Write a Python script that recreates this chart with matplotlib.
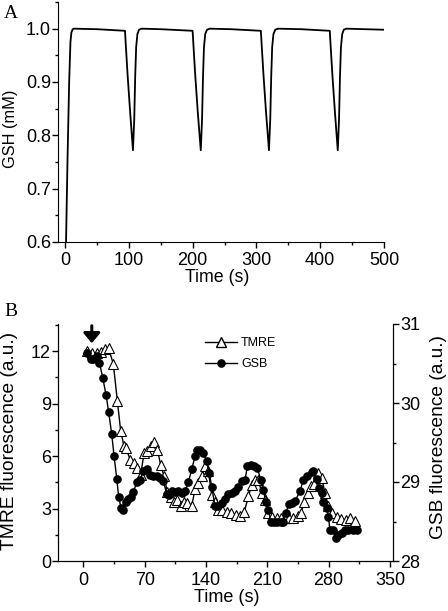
import matplotlib
matplotlib.use("Agg")
import matplotlib.pyplot as plt
from matplotlib.ticker import MultipleLocator
from matplotlib.lines import Line2D

plt.rcParams['font.family'] = ['Liberation Sans', 'DejaVu Sans']

# ---------------- Panel A data: simulated GSH ----------------
time_a = [0, 1.6, 4, 6.5, 8.5, 10, 12, 14, 50, 94,
          95, 98, 102, 106.5, 108.5, 110, 111.5, 113.5, 116, 120, 150, 200,
          201, 204, 208, 212.8, 214.8, 216.3, 217.8, 219.8, 222.5, 227, 260, 307,
          308, 311, 315, 319.7, 321.7, 323.2, 324.7, 326.7, 329.5, 334, 370, 415,
          416, 419, 423, 427.5, 429.5, 431, 432.5, 434.5, 437, 441, 470, 500]
gsh = [0.50, 0.60, 0.76, 0.90, 0.975, 0.993, 0.999, 1.000, 0.999, 0.996,
       0.975, 0.915, 0.845, 0.772, 0.830, 0.910, 0.965, 0.990, 0.998, 1.000, 0.999, 0.996,
       0.975, 0.915, 0.845, 0.772, 0.830, 0.910, 0.965, 0.990, 0.998, 1.000, 0.999, 0.996,
       0.975, 0.915, 0.845, 0.772, 0.830, 0.910, 0.965, 0.990, 0.998, 1.000, 0.999, 0.996,
       0.975, 0.915, 0.845, 0.772, 0.830, 0.910, 0.965, 0.990, 0.998, 1.000, 0.999, 0.998]

# ---------------- Panel B data ----------------
tmre_t = [4.6, 10.3, 15.2, 20.2, 25.1, 28.9, 34.2, 38.8, 42.6, 46.4, 48.7, 53.3, 57.8,
          61.6, 65.4, 69.3, 73.1, 76.9, 80.7, 84.5, 88.3, 92.1, 95.9, 99.7, 103.5,
          107.3, 111.1, 114.9, 118.7, 123.7, 127.5, 131.3, 135.1, 138.9, 142.7, 146.5,
          150.3, 154.1, 158.7, 163.6, 168.6, 173.9, 178.8, 183.8, 188.4, 192.2, 196.0,
          199.8, 203.6, 207.4, 211.2, 215.8, 220.7, 225.6, 230.2, 235.2, 239.7, 244.7,
          248.5, 252.3, 256.1, 259.9, 263.7, 268.3, 272.1, 275.9, 279.7, 284.2, 289.2,
          294.1, 299.5, 304.4, 310.1]
tmre = [12.0, 11.9, 11.9, 11.95, 12.1, 12.15, 11.25, 9.14, 7.42, 6.56, 6.46, 5.79, 5.60,
        5.32, 4.93, 6.18, 6.27, 6.56, 6.79, 6.37, 5.47, 4.84, 3.92, 3.65, 3.40,
        3.50, 3.12, 3.40, 3.31, 3.15, 4.11, 4.46, 4.84, 5.41, 5.12, 3.79,
        3.40, 2.93, 2.89, 2.83, 2.73, 2.64, 2.58, 2.83, 3.69, 4.36, 4.65,
        4.65, 3.88, 3.50, 2.73, 2.54, 2.45, 2.45, 2.45, 2.45, 2.45, 2.58,
        2.73, 3.40, 3.88, 4.26, 4.40, 5.03, 4.74, 3.88, 3.12, 2.73, 2.50,
        2.41, 2.35, 2.45, 2.31]

gsb_t = [4.6, 8.4, 11.4, 15.2, 18.3, 22.1, 25.9, 28.9, 32.3, 35.0, 38.1, 40.3, 43.0,
         45.7, 48.7, 51.4, 54.0, 57.1, 60.9, 64.7, 68.5, 72.3, 76.1, 79.9, 83.7, 87.5,
         91.3, 95.1, 98.2, 100.8, 104.6, 108.4, 112.3, 116.1, 119.9, 123.7, 127.5,
         130.1, 133.2, 137.0, 140.8, 143.8, 146.5, 150.3, 154.1, 157.9, 161.7, 165.5,
         169.3, 173.1, 176.9, 180.7, 184.6, 187.2, 191.0, 194.8, 198.6, 202.4, 205.5,
         208.1, 211.2, 213.9, 217.7, 221.5, 225.3, 228.3, 231.4, 234.4, 237.8, 241.6,
         247.3, 251.1, 254.9, 260.7, 262.6, 266.4, 269.0, 272.1, 274.0, 277.8, 279.7,
         281.6, 284.6, 288.4, 291.1, 294.9, 298.7, 302.5, 307.5, 312.0]
gsb = [30.63, 30.56, 30.56, 30.59, 30.51, 30.32, 30.10, 29.88, 29.61, 29.33, 29.04, 28.81, 28.67,
       28.64, 28.75, 28.78, 28.81, 28.87, 29.00, 29.03, 29.14, 29.17, 29.09, 29.07, 29.08, 29.05,
       29.01, 28.85, 28.83, 28.89, 28.87, 28.88, 28.86, 28.88, 29.00, 29.16, 29.33,
       29.40, 29.40, 29.37, 29.26, 29.11, 28.94, 28.69, 28.70, 28.74, 28.78, 28.85,
       28.86, 28.88, 28.94, 29.01, 29.03, 29.20, 29.21, 29.20, 29.18, 29.03, 28.90,
       28.75, 28.65, 28.50, 28.50, 28.50, 28.50, 28.49, 28.61, 28.72, 28.73, 28.76,
       28.88, 29.03, 29.07, 29.13, 29.14, 29.04, 28.92, 28.86, 28.75, 28.67, 28.56,
       28.39, 28.39, 28.29, 28.33, 28.35, 28.39, 28.39, 28.39, 28.39]

arrow_t = 9.6

W, H = 448, 611
fig = plt.figure(figsize=(W / 100, H / 100), dpi=100)

TICK_FS = 13

def style_ticks(ax, xpad, **kw):
    ax.tick_params(which='major', direction='out', length=4, width=1,
                   labelsize=TICK_FS, pad=1, **kw)
    ax.tick_params(which='minor', direction='out', length=2.5, width=1, **kw)
    ax.tick_params(axis='x', pad=xpad)

# ---------------- Panel A ----------------
axA = fig.add_axes([58 / W, 1 - 242 / H, 326 / W, 240 / H])
axA.plot(time_a, gsh, color='black', lw=1.3)
axA.set_xlim(-11, 500)
axA.set_ylim(0.6, 1.05)
axA.xaxis.set_major_locator(MultipleLocator(100))
axA.xaxis.set_minor_locator(MultipleLocator(50))
axA.yaxis.set_major_locator(MultipleLocator(0.1))
axA.yaxis.set_minor_locator(MultipleLocator(0.05))
axA.yaxis.set_major_formatter(plt.FuncFormatter(lambda v, p: f"{v:.1f}"))
axA.spines['top'].set_visible(False)
axA.spines['right'].set_visible(False)
style_ticks(axA, xpad=3)
fig.text(217 / W, 1 - 277 / H, 'Time (s)', fontsize=12.8, ha='center', va='center')
fig.text(10 / W, 1 - 129 / H, 'GSH (mM)', fontsize=11.8, rotation=90,
         ha='center', va='center')
fig.text(4 / W, 1 - 13 / H, 'A', family='Liberation Serif', fontsize=14, va='center')

# ---------------- Panel B ----------------
axB = fig.add_axes([58 / W, 1 - 561 / H, 335 / W, 237 / H])
axB.plot(tmre_t, tmre, color='black', lw=1.0, marker='^', ms=6.5,
         mfc='white', mec='black', mew=0.8, zorder=3)
axB.set_xlim(-29, 353.5)
axB.set_ylim(0, 13.55)
axB.xaxis.set_major_locator(MultipleLocator(70))
axB.xaxis.set_minor_locator(MultipleLocator(35))
axB.yaxis.set_major_locator(MultipleLocator(3))
axB.yaxis.set_minor_locator(MultipleLocator(1.5))
axB.spines['top'].set_visible(False)
style_ticks(axB, xpad=4)

axR = axB.twinx()
axR.plot(gsb_t, gsb, color='black', lw=1.0, marker='o', ms=5.2,
         mfc='black', mec='black', zorder=4)
axR.set_ylim(28, 31)
axR.yaxis.set_major_locator(MultipleLocator(1))
axR.yaxis.set_minor_locator(MultipleLocator(0.5))
axR.spines['top'].set_visible(False)
style_ticks(axR, xpad=4)

fig.text(227 / W, 1 - 598 / H, 'Time (s)', fontsize=13, ha='center', va='center')
fig.text(10 / W, 1 - 441 / H, 'TMRE fluorescence (a.u.)', fontsize=13.8, rotation=90,
         ha='center', va='center')
fig.text(438 / W, 1 - 437 / H, 'GSB fluorescence (a.u.)', fontsize=13.8, rotation=90,
         ha='center', va='center')

axB.annotate('', xy=(arrow_t, 12.45), xytext=(arrow_t, 13.45),
             arrowprops=dict(arrowstyle='-|>,head_width=0.5,head_length=0.6',
                             color='black', lw=2.2, shrinkA=0, shrinkB=0))

handles = [Line2D([], [], color='black', lw=1.0, marker='^', ms=6.5, mfc='white', mec='black'),
           Line2D([], [], color='black', lw=1.0, marker='o', ms=5.2, mfc='black')]
axB.legend(handles, ['TMRE', 'GSB'], loc='upper left', bbox_to_anchor=(0.42, 0.97),
           frameon=False, fontsize=9, handlelength=2.6, handletextpad=0.3,
           labelspacing=0.7, borderpad=0)

fig.text(4 / W, 1 - 311 / H, 'B', family='Liberation Serif', fontsize=14, va='center')

fig.savefig('out.png', dpi=100)
